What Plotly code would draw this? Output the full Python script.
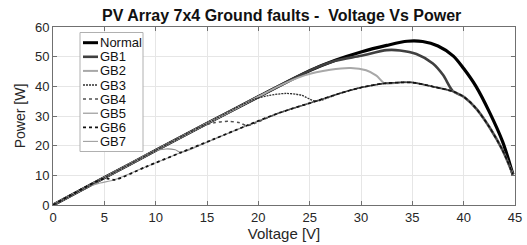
import plotly.graph_objects as go

# ---------------- data ----------------
normal_v = [0, 5, 10, 15, 20, 25, 27.5, 30, 32.5, 34.5, 36, 37.5, 39, 40, 41.2, 42.5, 43.8, 44.8]
normal_p = [0, 9.2, 18.4, 27.5, 36.5, 45.3, 48.8, 51.6, 53.8, 55.2, 55.1, 53.6, 50.2, 46.0, 40.0, 31.4, 21.3, 10.3]

# shared rising part (faulted curves follow the normal curve first)
rise_v = [0, 5, 10, 15, 20, 25]
rise_p = [0, 9.2, 18.4, 27.5, 36.5, 45.3]

# shared lower tail that all faulted curves merge into
tail_v = [6.0, 9.0, 12.5, 15.6, 18.9, 22.0, 25.6, 28.0, 30.0, 32.3, 33.8, 35.0, 37.0, 38.95, 40.0, 41.2, 42.5, 43.8, 44.8]
tail_p = [8.5, 12.8, 17.75, 22.1, 26.8, 31.0, 35.0, 37.7, 39.6, 41.0, 41.3, 41.3, 39.9, 38.3, 36.5, 32.6, 26.3, 18.4, 10.3]

gb1_arc_v = [27.5, 30, 32.5, 33.8, 35.4, 37, 38, 38.95]
gb1_arc_p = [48.6, 50.3, 52.2, 52.1, 50.9, 47.7, 43.8, 38.4]
gb2_arc_v = [22, 24.5, 27, 29, 30.5, 31.5, 32.3]
gb2_arc_p = [40.1, 43.7, 45.6, 46.2, 45.4, 43.6, 41.0]
gb3_arc_v = [19.5, 21, 22.7, 24.2, 25.6]
gb3_arc_p = [35.5, 36.9, 37.6, 37.0, 35.0]
gb4_arc_v = [14.3, 15.8, 17.2, 18.2, 18.9]
gb4_arc_p = [26.3, 27.8, 28.2, 27.7, 26.8]
gb5_arc_v = [9.8, 11.0, 11.9, 12.5]
gb5_arc_p = [18.0, 18.9, 18.6, 17.75]
gb6_arc_v = [4.6, 5.3, 6.0]
gb6_arc_p = [8.5, 8.9, 8.5]
gb7_arc_v = [3.3, 4.6, 6.0]
gb7_arc_p = [6.1, 7.4, 8.5]

series_names = ["Normal", "GB1", "GB2", "GB3", "GB4", "GB5", "GB6", "GB7"]
x_ticks = [0, 5, 10, 15, 20, 25, 30, 35, 40, 45]
y_ticks = [0, 10, 20, 30, 40, 50, 60]


def build(arc_v, arc_p):
    v = [a for a in rise_v if a < arc_v[0]] + arc_v + [a for a in tail_v if a > arc_v[-1]]
    p = ([b for a, b in zip(rise_v, rise_p) if a < arc_v[0]] + arc_p +
         [b for a, b in zip(tail_v, tail_p) if a > arc_v[-1]])
    return v, p


curves = [(normal_v, normal_p)] + [build(av, ap) for av, ap in [
    (gb1_arc_v, gb1_arc_p), (gb2_arc_v, gb2_arc_p), (gb3_arc_v, gb3_arc_p),
    (gb4_arc_v, gb4_arc_p), (gb5_arc_v, gb5_arc_p), (gb6_arc_v, gb6_arc_p),
    (gb7_arc_v, gb7_arc_p)]]

styles = [
    dict(color="#000000", width=3.2, dash="solid"),
    dict(color="#404040", width=2.6, dash="solid"),
    dict(color="#a8a8a8", width=2.0, dash="solid"),
    dict(color="#303030", width=1.3, dash="2px,1px"),
    dict(color="#505050", width=1.5, dash="3px,3px"),
    dict(color="#909090", width=1.1, dash="solid"),
    dict(color="#111111", width=1.8, dash="dot"),
    dict(color="#a0a0a0", width=1.1, dash="solid"),
]

# drawing order: light solid lines underneath, dark dotted/dashed on top
draw_order = [0, 1, 2, 7, 5, 4, 3, 6]

fig = go.Figure()
for i in draw_order:
    v, p = curves[i]
    st = styles[i]
    fig.add_trace(go.Scatter(x=v, y=p, mode="lines", name=series_names[i],
                             line=dict(color=st["color"], width=st["width"], dash=st["dash"],
                                       shape="spline", smoothing=0.8),
                             showlegend=False, hoverinfo="skip"))

FONT = "Liberation Sans, Arial, Helvetica, sans-serif"
L, R, T, B = 53, 12, 27, 40
W, H = 527, 245
pw, ph = W - L - R, H - T - B


def px_x(px):
    return (px - L) / pw


def px_y(py):
    return (H - B - py) / ph


# custom legend (compact, like the original)
shapes = [dict(type="rect", xref="paper", yref="paper",
               x0=px_x(80), x1=px_x(143), y0=px_y(151.5), y1=px_y(32.5),
               fillcolor="white", line=dict(color="#b0b0b0", width=1), layer="above")]
annotations = []
for i, (name, st) in enumerate(zip(series_names, styles)):
    yc = 42.7 + 14.1 * i
    shapes.append(dict(type="line", xref="paper", yref="paper",
                       x0=px_x(83), x1=px_x(98), y0=px_y(yc), y1=px_y(yc),
                       line=dict(color=st["color"], width=min(st["width"], 3), dash=st["dash"]),
                       layer="above"))
    annotations.append(dict(xref="paper", yref="paper", x=px_x(98), y=px_y(yc),
                            text=name, showarrow=False, xanchor="left", yanchor="middle",
                            font=dict(family=FONT, size=13, color="#111111")))

fig.update_layout(
    width=W, height=H,
    margin=dict(l=L, r=R, t=T, b=B, autoexpand=False),
    paper_bgcolor="white", plot_bgcolor="white",
    title=dict(text="<b>PV Array 7x4 Ground faults -  Voltage Vs Power</b>",
               x=0.495, xref="paper", xanchor="center",
               y=1 - 15 / H, yref="container", yanchor="middle",
               font=dict(family=FONT, size=16, color="#111111")),
    shapes=shapes, annotations=annotations,
    showlegend=False,
)
axis_common = dict(showline=True, linecolor="#707070", linewidth=1, mirror="ticks",
                   ticks="inside", ticklen=4, tickcolor="#707070", automargin=False,
                   showgrid=True, gridcolor="#e6e6e6", gridwidth=1, zeroline=False,
                   tickfont=dict(family=FONT, size=13, color="#262626"))
fig.update_xaxes(range=[0, 45], tickvals=x_ticks,
                 title=dict(text="Voltage [V]", font=dict(family=FONT, size=15, color="#262626"),
                            standoff=4),
                 **axis_common)
fig.update_yaxes(range=[0, 60], tickvals=y_ticks,
                 title=dict(text="Power [W]", font=dict(family=FONT, size=14, color="#262626"),
                            standoff=6),
                 **axis_common)

fig.write_html("out.html",
               config={"displayModeBar": False, "staticPlot": True},
               post_script="document.body.style.margin='0px';document.body.style.overflow='hidden';")
